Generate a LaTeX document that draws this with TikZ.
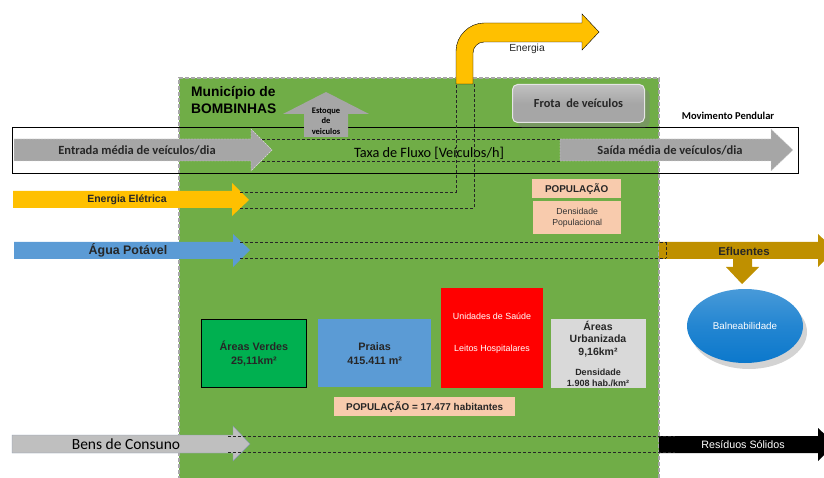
\documentclass[tikz,border=0pt]{standalone}
\usepackage{fontspec}
\setmainfont{Liberation Sans}
\newfontfamily\calibri{Carlito}
\usetikzlibrary{shadows,shapes.geometric}

\definecolor{verdeMun}{HTML}{70AD47}
\definecolor{verdeArea}{HTML}{00B050}
\definecolor{azulAgua}{HTML}{5B9BD5}
\definecolor{azulBal}{HTML}{0B78CC}
\definecolor{amarelo}{HTML}{FFC000}
\definecolor{ouro}{HTML}{BF9000}
\definecolor{cinza}{HTML}{A6A6A6}
\definecolor{cinzaClaro}{HTML}{BFBFBF}
\definecolor{cinzaUrb}{HTML}{D9D9D9}
\definecolor{pessego}{HTML}{F8CBAD}
\definecolor{borda}{HTML}{8497B0}

\tikzset{
    rotulo/.style={inner sep=0pt, align=center},
    caixa/.style={inner sep=0pt, anchor=north west},
    fluxo/.style={dash pattern=on 3pt off 2pt, line width=0.8pt, black!85},
}

\begin{document}
\begin{tikzpicture}[x=1pt, y=-1pt]
    % Rahmen
    \useasboundingbox (0,0) rectangle (824,478);
    \clip (0,0) rectangle (824,478);

    % Gemeinde
    \fill[verdeMun] (179,78) rectangle (659,480);
    \draw[cinza, line width=1.3pt, dash pattern=on 4pt off 2pt] (179,480) -- (179,78) -- (659,78) -- (659,480);
    \node[rotulo, anchor=west, align=left, font=\bfseries\fontsize{13.8}{17}\selectfont] (municipio) at (191,100.5) {Município de\\BOMBINHAS};

    % Movimento Pendular
    \draw[black, line width=1pt] (12,128) rectangle (798,174);
    \node[rotulo, font=\calibri\bfseries\fontsize{10.5}{12}\selectfont] (pendular) at (728,116) {Movimento Pendular};

    % Estoque
    \fill[cinza] (304,137) -- (304,114) -- (283,114) -- (326,92) -- (369,114) -- (348,114) -- (348,137) -- cycle;
    \node[rotulo, font=\calibri\bfseries\fontsize{8.5}{10.5}\selectfont] (estoque) at (326,121) {Estoque\\de\\veiculos};

    % Fahrzeuge
    \filldraw[fill=cinza, draw=white!70!gray, dash pattern=on 2pt off 1pt, thin] (14,139) -- (251,139) -- (251,129) -- (272,150) -- (251,171) -- (251,161) -- (14,161) -- cycle;
    \node[rotulo, font=\calibri\bfseries\fontsize{12.5}{14}\selectfont, text=black!85] (entrada) at (137,150) {Entrada média de veículos/dia};
    \filldraw[fill=cinza, draw=white!70!gray, dash pattern=on 2pt off 1pt, thin] (560,139) -- (771,139) -- (771,129) -- (793,150) -- (771,171) -- (771,161) -- (560,161) -- cycle;
    \node[rotulo, font=\calibri\bfseries\fontsize{12.5}{14}\selectfont, text=black!85] (saida) at (670,150) {Saída média de veículos/dia};
    \foreach \y in {139,161} {
        \draw[fluxo] (262,\y) -- (560,\y);
    }
    \node[rotulo, font=\calibri\fontsize{14.3}{16}\selectfont] (taxa) at (429,153) {Taxa de Fluxo [Veículos/h]};

    % Energie
    \filldraw[fill=amarelo, draw=black, thin] (456,84) -- (456,51) .. controls (456,36) and (469,23) .. (484,23) -- (582,23) -- (582,14) -- (599,32) -- (582,50) -- (582,42) -- (484,42) .. controls (478,42) and (473,47) .. (473,53) -- (473,84) -- cycle;
    \node[rotulo, font=\fontsize{10.3}{12}\selectfont, text=black!85] (energia) at (527,49) {Energia};
    \fill[amarelo] (13,191) -- (232,191) -- (232,183) -- (249,200) -- (232,216) -- (232,208) -- (13,208) -- cycle;
    \node[rotulo, font=\bfseries\fontsize{10.5}{12}\selectfont, text=black!85] (eletrica) at (127,200) {Energia Elétrica};
    \draw[fluxo] (240,192) -- (456,192) -- (456,84);
    \draw[fluxo] (240,208) -- (474,208) -- (474,84);

    % Wasser
    \fill[ouro] (659,242) -- (818,242) -- (818,234) -- (835,250) -- (818,267) -- (818,259) -- (752,259) -- (752,267) -- (759,267) -- (742,284) -- (726,267) -- (733,267) -- (733,259) -- (659,259) -- cycle;
    \node[rotulo, font=\bfseries\fontsize{11.4}{13}\selectfont, text=black!85] (efluentes) at (744,251) {Efluentes};
    \fill[azulAgua] (14,242) -- (233,242) -- (233,234) -- (250,250) -- (233,267) -- (233,259) -- (14,259) -- cycle;
    \node[rotulo, font=\bfseries\fontsize{12.4}{14}\selectfont, text=black!85] (agua) at (128,250) {Água Potável};
    \foreach \y in {242,258} {
        \draw[fluxo] (240,\y) -- (666,\y);
    }
    \draw[fluxo] (666,242) -- (666,258);

    % Balneabilidade
    \node[ellipse, minimum width=116, minimum height=74, inner sep=0pt, top color=azulBal!75!white, bottom color=azulBal, middle color=azulBal!90!white, drop shadow={opacity=0.35, shadow xshift=4pt, shadow yshift=-6pt}, text=white, font=\fontsize{9.8}{11}\selectfont] (balne) at (745,326) {Balneabilidade};

    % Güter
    \filldraw[fill=cinzaClaro, draw=borda, thin] (12,435) -- (233,435) -- (233,426) -- (250,444) -- (233,461) -- (233,453) -- (12,453) -- cycle;
    \node[rotulo, font=\calibri\fontsize{15.5}{17}\selectfont] (bens) at (126,444) {Bens de Consuno};
    \fill[black] (659,436) -- (818,436) -- (818,428) -- (835,444) -- (818,461) -- (818,453) -- (659,453) -- cycle;
    \node[rotulo, font=\fontsize{10.7}{12}\selectfont, text=white] (residuos) at (743,445) {Resíduos Sólidos};
    \foreach \y in {436,452} {
        \draw[fluxo] (228,\y) -- (675,\y);
    }

    % Frota
    \node[caixa, rounded corners=5pt, minimum width=132, minimum height=38, top color=cinza!70!white, bottom color=cinza, middle color=cinza, draw=white!80!gray, line width=1pt, drop shadow={opacity=0.45, shadow xshift=5pt, shadow yshift=-5pt}] (frota) at (512,84) {};
    \node[rotulo, font=\calibri\bfseries\fontsize{12.3}{14}\selectfont, text=black!85] (frotaTxt) at (frota.center) {Frota\ \ de veículos};

    % Bevölkerung
    \node[caixa, fill=pessego, minimum width=89, minimum height=19] (pop) at (532,179) {};
    \node[rotulo, font=\bfseries\fontsize{9.9}{11}\selectfont, text=black!85] (popTxt) at (pop.center) {POPULAÇÃO};
    \node[caixa, fill=pessego, minimum width=88, minimum height=33] (dens) at (533,201) {};
    \node[rotulo, font=\fontsize{8.7}{10.5}\selectfont, text=black!80] (densTxt) at (dens.center) {Densidade\\Populacional};

    % Flächen
    \node[caixa, fill=verdeArea, draw=black, line width=0.8pt, minimum width=105, minimum height=68] (verdes) at (201,319) {};
    \node[rotulo, font=\bfseries\fontsize{10.8}{14}\selectfont, text=black!85] (verdesTxt) at (verdes.center) {Áreas Verdes\\25,11km²};
    \node[caixa, fill=azulAgua, minimum width=113, minimum height=68] (praias) at (318,319) {};
    \node[rotulo, font=\bfseries\fontsize{10.8}{14}\selectfont, text=black!85] (praiasTxt) at (praias.center) {Praias\\415.411 m²};
    \node[caixa, fill=red, minimum width=102, minimum height=100] (saude) at (441,288) {};
    \node[rotulo, font=\fontsize{8.9}{10}\selectfont, text=white] (saudeTxt) at (492,316) {Unidades de Saúde};
    \node[rotulo, font=\fontsize{8.9}{10}\selectfont, text=white] (leitos) at (492,349) {Leitos Hospitalares};
    \node[caixa, fill=cinzaUrb, minimum width=95, minimum height=69] (urb) at (551,319) {};
    \node[rotulo, font=\bfseries\fontsize{10.5}{12.5}\selectfont, text=black!85] (urbTxt) at (598,339) {Áreas\\Urbanizada\\9,16km²};
    \node[rotulo, font=\bfseries\fontsize{9}{11}\selectfont, text=black!85] (urbDens) at (598,378) {Densidade\\1.908 hab./km²};

    \node[caixa, fill=pessego, minimum width=181, minimum height=19] (total) at (334,397) {};
    \node[rotulo, font=\bfseries\fontsize{9.9}{11}\selectfont, text=black!85] (totalTxt) at (total.center) {POPULAÇÃO = 17.477 habitantes};
\end{tikzpicture}
\end{document}
